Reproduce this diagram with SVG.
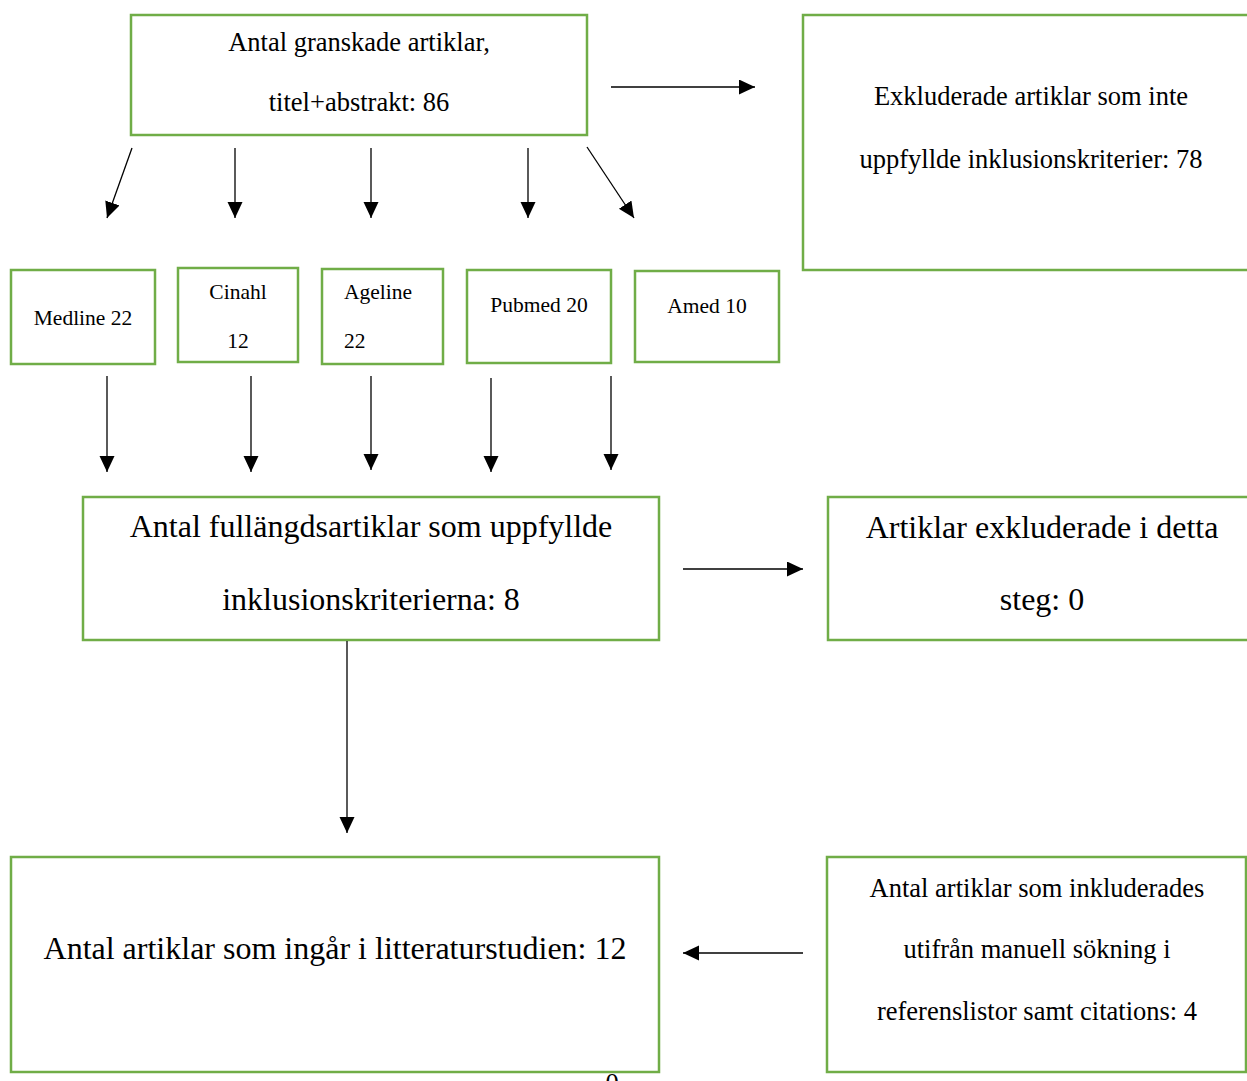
<svg xmlns="http://www.w3.org/2000/svg" width="1247" height="1081" viewBox="0 0 1247 1081">
<style>
.box{fill:#fff;stroke:#70ad47;stroke-width:2.5}
text{font-family:"Liberation Serif","Times New Roman",serif;fill:#000}
.m{font-size:26.5px;text-anchor:middle}
.s{font-size:21.5px;text-anchor:middle}
.st{font-size:21.5px;text-anchor:start}
.l{font-size:32px;text-anchor:middle}
.c line{stroke:#000;stroke-width:1.3;marker-end:url(#ah)}
</style>
<defs>
<marker id="ah" markerUnits="userSpaceOnUse" markerWidth="17" markerHeight="16" refX="16" refY="7.5" orient="auto">
<path d="M0,0 L16,7.5 L0,15 z" fill="#000"/>
</marker>
</defs>
<rect width="1247" height="1081" fill="#fff"/>
<g id="n-granskade">
<rect class="box" x="131" y="15" width="456" height="120"/>
<text class="m" x="359" y="51">Antal granskade artiklar,</text>
<text class="m" x="359" y="111">titel+abstrakt: 86</text>
</g>
<g id="n-exkluderade">
<rect class="box" x="803" y="15" width="460" height="255"/>
<text class="m" x="1031" y="105">Exkluderade artiklar som inte</text>
<text class="m" x="1031" y="168">uppfyllde inklusionskriterier: 78</text>
</g>
<g id="n-medline">
<rect class="box" x="11" y="270" width="144" height="94"/>
<text class="s" x="83" y="325">Medline 22</text>
</g>
<g id="n-cinahl">
<rect class="box" x="178" y="268" width="120" height="94"/>
<text class="s" x="238" y="299">Cinahl</text>
<text class="s" x="238" y="348">12</text>
</g>
<g id="n-ageline">
<rect class="box" x="322" y="269" width="121" height="95"/>
<text class="st" x="344" y="299">Ageline</text>
<text class="st" x="344" y="348">22</text>
</g>
<g id="n-pubmed">
<rect class="box" x="467" y="270" width="144" height="93"/>
<text class="s" x="539" y="312">Pubmed 20</text>
</g>
<g id="n-amed">
<rect class="box" x="635" y="271" width="144" height="91"/>
<text class="s" x="707" y="313">Amed 10</text>
</g>
<g id="n-fullangd">
<rect class="box" x="83" y="497" width="576" height="143"/>
<text class="l" x="371" y="537">Antal fullängdsartiklar som uppfyllde</text>
<text class="l" x="371" y="610">inklusionskriterierna: 8</text>
</g>
<g id="n-steg">
<rect class="box" x="828" y="497" width="430" height="143"/>
<text class="l" x="1042" y="538">Artiklar exkluderade i detta</text>
<text class="l" x="1042" y="610">steg: 0</text>
</g>
<g id="n-ingar">
<rect class="box" x="11" y="857" width="648" height="215"/>
<text class="l" x="335" y="959">Antal artiklar som ingår i litteraturstudien: 12</text>
</g>
<g id="n-manuell">
<rect class="box" x="827" y="857" width="419" height="215"/>
<text class="m" x="1037" y="897">Antal artiklar som inkluderades</text>
<text class="m" x="1037" y="958">utifrån manuell sökning i</text>
<text class="m" x="1037" y="1020">referenslistor samt citations: 4</text>
</g>
<text class="m" x="612" y="1092">0</text>
<g id="connectors" class="c">
<line x1="611" y1="87" x2="755" y2="87"/>
<line x1="132" y1="148" x2="107" y2="218"/>
<line x1="235" y1="148" x2="235" y2="218"/>
<line x1="371" y1="148" x2="371" y2="218"/>
<line x1="528" y1="148" x2="528" y2="218"/>
<line x1="587" y1="147" x2="634" y2="218"/>
<line x1="107" y1="376" x2="107" y2="472"/>
<line x1="251" y1="376" x2="251" y2="472"/>
<line x1="371" y1="376" x2="371" y2="470"/>
<line x1="491" y1="378" x2="491" y2="472"/>
<line x1="611" y1="376" x2="611" y2="470"/>
<line x1="683" y1="569" x2="803" y2="569"/>
<line x1="347" y1="641" x2="347" y2="833"/>
<line x1="803" y1="953" x2="683" y2="953"/>
</g>
</svg>
